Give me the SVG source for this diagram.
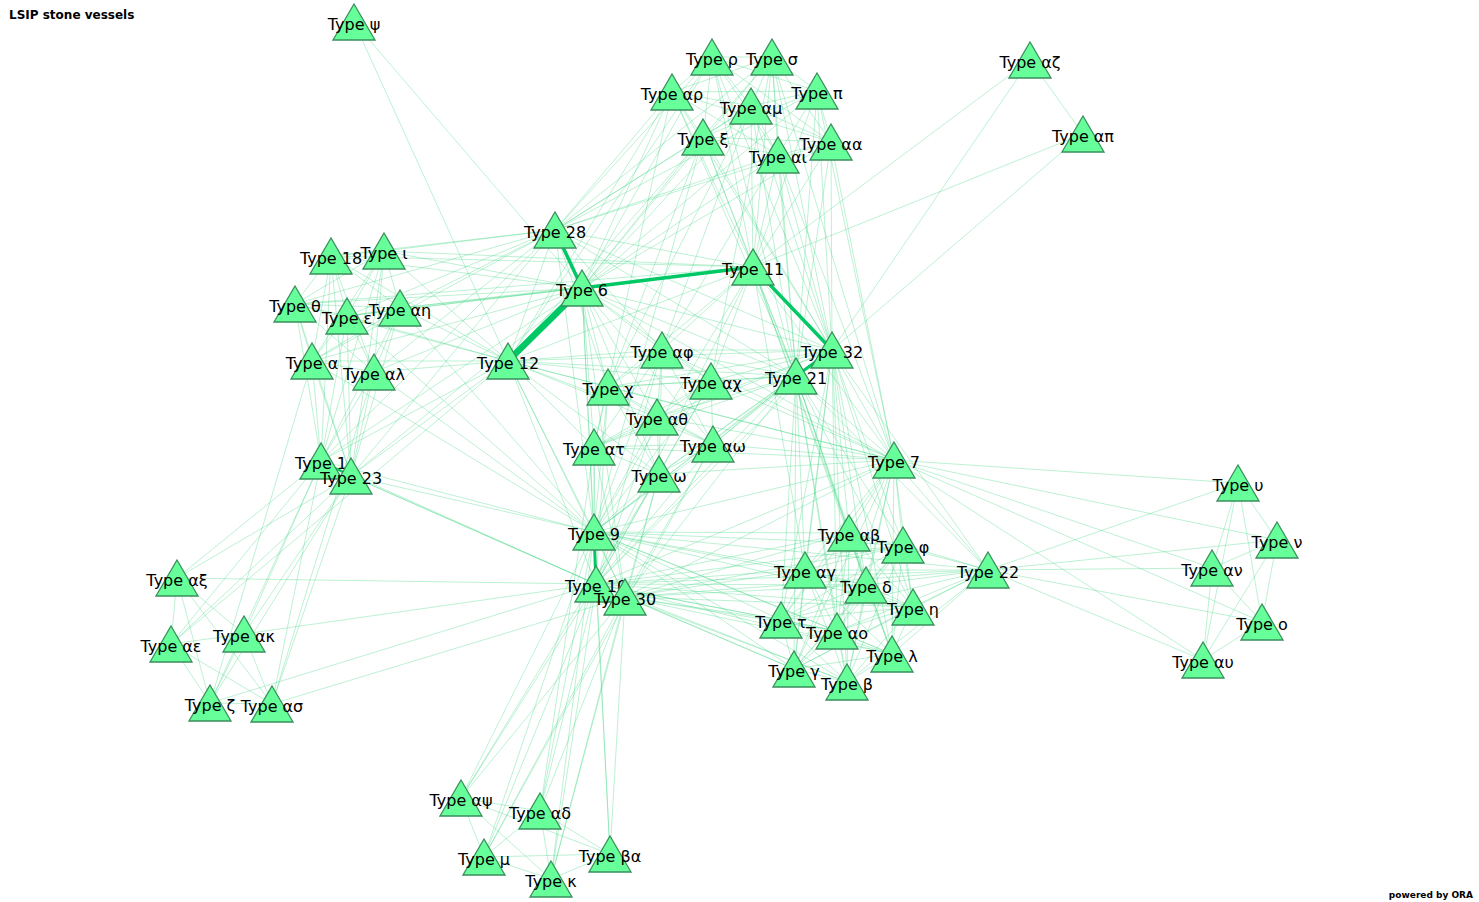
<svg xmlns="http://www.w3.org/2000/svg" xmlns:xlink="http://www.w3.org/1999/xlink" width="1479" height="902" viewBox="0 0 1479 902">
<style>
.e path{stroke:#3ad67f;stroke-opacity:0.42;stroke-width:0.8;fill:none}
.h path{stroke:#00c864;fill:none;stroke-linecap:round}
.n use{fill:#66ff99;stroke:#3a8f5c;stroke-width:1.3}
.n text{font-family:"DejaVu Sans",Verdana,sans-serif;font-size:16px;fill:#000;text-anchor:middle}
.t{font-family:"DejaVu Sans",Verdana,sans-serif;font-weight:bold;fill:#000}
</style>
<defs>
<path id="tri" d="M0 -18L21 18L-21 18Z"/>
</defs>
<rect width="1479" height="902" fill="#fff"/>
<text class="t" x="9" y="19" font-size="12">LSIP stone vessels</text>
<text class="t" x="1473" y="898" font-size="9" text-anchor="end">powered by ORA</text>
<g id="connectors">
<g class="e">
<path d="M712 57L772 57"/><path d="M712 57L672 92"/><path d="M712 57L817 91"/><path d="M712 57L751 106"/><path d="M712 57L703 137"/><path d="M712 57L778 155"/><path d="M712 57L831 142"/>
<path d="M772 57L672 92"/><path d="M772 57L817 91"/><path d="M772 57L751 106"/><path d="M772 57L703 137"/><path d="M772 57L778 155"/><path d="M772 57L831 142"/>
<path d="M672 92L817 91"/><path d="M672 92L751 106"/><path d="M672 92L703 137"/><path d="M672 92L778 155"/><path d="M672 92L831 142"/>
<path d="M817 91L751 106"/><path d="M817 91L703 137"/><path d="M817 91L778 155"/><path d="M817 91L831 142"/>
<path d="M751 106L703 137"/><path d="M751 106L778 155"/><path d="M751 106L831 142"/>
<path d="M703 137L778 155"/><path d="M703 137L831 142"/><path d="M778 155L831 142"/>
<path d="M712 57L555 230"/><path d="M712 57L582 288"/><path d="M712 57L753 267"/><path d="M712 57L832 350"/><path d="M712 57L796 376"/>
<path d="M772 57L555 230"/><path d="M772 57L582 288"/><path d="M772 57L753 267"/><path d="M772 57L832 350"/><path d="M772 57L796 376"/>
<path d="M672 92L555 230"/><path d="M672 92L582 288"/><path d="M672 92L753 267"/><path d="M672 92L832 350"/><path d="M672 92L796 376"/>
<path d="M817 91L555 230"/><path d="M817 91L582 288"/><path d="M817 91L753 267"/><path d="M817 91L832 350"/><path d="M817 91L796 376"/>
<path d="M751 106L555 230"/><path d="M751 106L582 288"/><path d="M751 106L753 267"/><path d="M751 106L832 350"/><path d="M751 106L796 376"/>
<path d="M703 137L555 230"/><path d="M703 137L582 288"/><path d="M703 137L753 267"/><path d="M703 137L832 350"/><path d="M703 137L796 376"/>
<path d="M778 155L555 230"/><path d="M778 155L582 288"/><path d="M778 155L753 267"/><path d="M778 155L832 350"/><path d="M778 155L796 376"/>
<path d="M831 142L555 230"/><path d="M831 142L582 288"/><path d="M831 142L753 267"/><path d="M831 142L832 350"/><path d="M831 142L796 376"/>
<path d="M672 92L508 361"/><path d="M703 137L508 361"/><path d="M712 57L508 361"/><path d="M703 137L608 387"/><path d="M751 106L608 387"/>
<path d="M831 142L894 460"/><path d="M817 91L894 460"/><path d="M778 155L894 460"/><path d="M772 57L894 460"/><path d="M751 106L662 350"/>
<path d="M778 155L662 350"/><path d="M703 137L594 532"/><path d="M772 57L711 381"/><path d="M672 92L594 447"/>
<path d="M331 256L384 251"/><path d="M331 256L295 304"/><path d="M331 256L347 316"/><path d="M331 256L400 308"/><path d="M331 256L312 361"/><path d="M331 256L374 372"/><path d="M331 256L321 461"/><path d="M331 256L351 476"/>
<path d="M384 251L295 304"/><path d="M384 251L347 316"/><path d="M384 251L400 308"/><path d="M384 251L312 361"/><path d="M384 251L374 372"/><path d="M384 251L321 461"/><path d="M384 251L351 476"/>
<path d="M295 304L347 316"/><path d="M295 304L400 308"/><path d="M295 304L312 361"/><path d="M295 304L374 372"/><path d="M295 304L321 461"/><path d="M295 304L351 476"/>
<path d="M347 316L400 308"/><path d="M347 316L312 361"/><path d="M347 316L374 372"/><path d="M347 316L321 461"/><path d="M347 316L351 476"/>
<path d="M400 308L312 361"/><path d="M400 308L374 372"/><path d="M400 308L321 461"/><path d="M400 308L351 476"/>
<path d="M312 361L374 372"/><path d="M312 361L321 461"/><path d="M312 361L351 476"/><path d="M374 372L321 461"/><path d="M374 372L351 476"/>
<path d="M331 256L555 230"/><path d="M331 256L582 288"/><path d="M331 256L508 361"/>
<path d="M384 251L555 230"/><path d="M384 251L582 288"/><path d="M384 251L508 361"/>
<path d="M295 304L555 230"/><path d="M295 304L582 288"/><path d="M295 304L508 361"/>
<path d="M347 316L555 230"/><path d="M347 316L582 288"/><path d="M347 316L508 361"/>
<path d="M400 308L555 230"/><path d="M400 308L582 288"/><path d="M400 308L508 361"/>
<path d="M312 361L555 230"/><path d="M312 361L582 288"/><path d="M312 361L508 361"/>
<path d="M374 372L555 230"/><path d="M374 372L582 288"/><path d="M374 372L508 361"/>
<path d="M321 461L555 230"/><path d="M321 461L582 288"/><path d="M321 461L508 361"/>
<path d="M351 476L555 230"/><path d="M351 476L582 288"/><path d="M351 476L508 361"/>
<path d="M331 256L753 267"/><path d="M384 251L753 267"/><path d="M295 304L753 267"/><path d="M347 316L753 267"/><path d="M400 308L753 267"/>
<path d="M312 361L594 532"/><path d="M374 372L594 532"/><path d="M347 316L594 532"/><path d="M400 308L594 532"/><path d="M321 461L594 532"/><path d="M351 476L594 532"/>
<path d="M321 461L596 584"/><path d="M351 476L596 584"/><path d="M351 476L625 597"/>
<path d="M608 387L662 350"/><path d="M608 387L711 381"/><path d="M608 387L657 417"/><path d="M608 387L594 447"/><path d="M608 387L713 444"/><path d="M608 387L659 474"/>
<path d="M662 350L711 381"/><path d="M662 350L657 417"/><path d="M662 350L594 447"/><path d="M662 350L713 444"/><path d="M662 350L659 474"/>
<path d="M711 381L657 417"/><path d="M711 381L594 447"/><path d="M711 381L713 444"/><path d="M711 381L659 474"/>
<path d="M657 417L594 447"/><path d="M657 417L713 444"/><path d="M657 417L659 474"/>
<path d="M594 447L713 444"/><path d="M594 447L659 474"/><path d="M713 444L659 474"/>
<path d="M608 387L582 288"/><path d="M608 387L508 361"/><path d="M608 387L594 532"/><path d="M608 387L596 584"/><path d="M608 387L796 376"/><path d="M608 387L832 350"/><path d="M608 387L894 460"/>
<path d="M662 350L582 288"/><path d="M662 350L508 361"/><path d="M662 350L594 532"/><path d="M662 350L596 584"/><path d="M662 350L796 376"/><path d="M662 350L832 350"/><path d="M662 350L894 460"/>
<path d="M711 381L582 288"/><path d="M711 381L508 361"/><path d="M711 381L594 532"/><path d="M711 381L596 584"/><path d="M711 381L796 376"/><path d="M711 381L832 350"/><path d="M711 381L894 460"/>
<path d="M657 417L582 288"/><path d="M657 417L508 361"/><path d="M657 417L594 532"/><path d="M657 417L596 584"/><path d="M657 417L796 376"/><path d="M657 417L832 350"/><path d="M657 417L894 460"/>
<path d="M594 447L582 288"/><path d="M594 447L508 361"/><path d="M594 447L594 532"/><path d="M594 447L596 584"/><path d="M594 447L796 376"/><path d="M594 447L832 350"/><path d="M594 447L894 460"/>
<path d="M713 444L582 288"/><path d="M713 444L508 361"/><path d="M713 444L594 532"/><path d="M713 444L596 584"/><path d="M713 444L796 376"/><path d="M713 444L832 350"/><path d="M713 444L894 460"/>
<path d="M659 474L582 288"/><path d="M659 474L508 361"/><path d="M659 474L594 532"/><path d="M659 474L596 584"/><path d="M659 474L796 376"/><path d="M659 474L832 350"/><path d="M659 474L894 460"/>
<path d="M753 267L662 350"/><path d="M753 267L711 381"/><path d="M753 267L608 387"/><path d="M625 597L594 447"/><path d="M625 597L659 474"/><path d="M625 597L713 444"/><path d="M555 230L608 387"/><path d="M555 230L662 350"/>
<path d="M849 533L903 545"/><path d="M849 533L805 570"/><path d="M849 533L866 585"/><path d="M849 533L988 570"/><path d="M849 533L913 607"/><path d="M849 533L781 620"/><path d="M849 533L837 631"/><path d="M849 533L892 654"/><path d="M849 533L794 669"/><path d="M849 533L847 682"/>
<path d="M903 545L805 570"/><path d="M903 545L866 585"/><path d="M903 545L988 570"/><path d="M903 545L913 607"/><path d="M903 545L781 620"/><path d="M903 545L837 631"/><path d="M903 545L892 654"/><path d="M903 545L794 669"/><path d="M903 545L847 682"/>
<path d="M805 570L866 585"/><path d="M805 570L988 570"/><path d="M805 570L913 607"/><path d="M805 570L781 620"/><path d="M805 570L837 631"/><path d="M805 570L892 654"/><path d="M805 570L794 669"/><path d="M805 570L847 682"/>
<path d="M866 585L988 570"/><path d="M866 585L913 607"/><path d="M866 585L781 620"/><path d="M866 585L837 631"/><path d="M866 585L892 654"/><path d="M866 585L794 669"/><path d="M866 585L847 682"/>
<path d="M988 570L913 607"/><path d="M988 570L781 620"/><path d="M988 570L837 631"/><path d="M988 570L892 654"/><path d="M988 570L794 669"/><path d="M988 570L847 682"/>
<path d="M913 607L781 620"/><path d="M913 607L837 631"/><path d="M913 607L892 654"/><path d="M913 607L794 669"/><path d="M913 607L847 682"/>
<path d="M781 620L837 631"/><path d="M781 620L892 654"/><path d="M781 620L794 669"/><path d="M781 620L847 682"/>
<path d="M837 631L892 654"/><path d="M837 631L794 669"/><path d="M837 631L847 682"/>
<path d="M892 654L794 669"/><path d="M892 654L847 682"/><path d="M794 669L847 682"/>
<path d="M849 533L594 532"/><path d="M849 533L596 584"/><path d="M849 533L625 597"/><path d="M849 533L894 460"/><path d="M849 533L796 376"/><path d="M849 533L832 350"/>
<path d="M903 545L594 532"/><path d="M903 545L596 584"/><path d="M903 545L625 597"/><path d="M903 545L894 460"/><path d="M903 545L796 376"/><path d="M903 545L832 350"/>
<path d="M805 570L594 532"/><path d="M805 570L596 584"/><path d="M805 570L625 597"/><path d="M805 570L894 460"/><path d="M805 570L796 376"/><path d="M805 570L832 350"/>
<path d="M866 585L594 532"/><path d="M866 585L596 584"/><path d="M866 585L625 597"/><path d="M866 585L894 460"/><path d="M866 585L796 376"/><path d="M866 585L832 350"/>
<path d="M988 570L594 532"/><path d="M988 570L596 584"/><path d="M988 570L625 597"/><path d="M988 570L894 460"/><path d="M988 570L796 376"/><path d="M988 570L832 350"/>
<path d="M913 607L594 532"/><path d="M913 607L596 584"/><path d="M913 607L625 597"/><path d="M913 607L894 460"/><path d="M913 607L796 376"/><path d="M913 607L832 350"/>
<path d="M781 620L594 532"/><path d="M781 620L596 584"/><path d="M781 620L625 597"/><path d="M781 620L894 460"/><path d="M781 620L796 376"/><path d="M781 620L832 350"/>
<path d="M837 631L594 532"/><path d="M837 631L596 584"/><path d="M837 631L625 597"/><path d="M837 631L894 460"/><path d="M837 631L796 376"/><path d="M837 631L832 350"/>
<path d="M892 654L594 532"/><path d="M892 654L596 584"/><path d="M892 654L625 597"/><path d="M892 654L894 460"/><path d="M892 654L796 376"/><path d="M892 654L832 350"/>
<path d="M794 669L594 532"/><path d="M794 669L596 584"/><path d="M794 669L625 597"/><path d="M794 669L894 460"/><path d="M794 669L796 376"/><path d="M794 669L832 350"/>
<path d="M847 682L594 532"/><path d="M847 682L596 584"/><path d="M847 682L625 597"/><path d="M847 682L894 460"/><path d="M847 682L796 376"/><path d="M847 682L832 350"/>
<path d="M753 267L849 533"/><path d="M753 267L805 570"/><path d="M753 267L866 585"/>
<path d="M177 578L171 644"/><path d="M177 578L244 634"/><path d="M177 578L210 703"/><path d="M177 578L272 704"/>
<path d="M171 644L244 634"/><path d="M171 644L210 703"/><path d="M171 644L272 704"/>
<path d="M244 634L210 703"/><path d="M244 634L272 704"/><path d="M210 703L272 704"/>
<path d="M177 578L321 461"/><path d="M177 578L351 476"/><path d="M171 644L321 461"/><path d="M171 644L351 476"/><path d="M244 634L321 461"/><path d="M244 634L351 476"/><path d="M210 703L321 461"/><path d="M210 703L351 476"/><path d="M272 704L321 461"/><path d="M272 704L351 476"/>
<path d="M177 578L596 584"/><path d="M244 634L596 584"/><path d="M210 703L596 584"/><path d="M272 704L625 597"/>
<path d="M210 703L312 361"/><path d="M272 704L374 372"/><path d="M171 644L508 361"/>
<path d="M461 798L540 811"/><path d="M461 798L484 857"/><path d="M461 798L551 879"/><path d="M461 798L610 854"/>
<path d="M540 811L484 857"/><path d="M540 811L551 879"/><path d="M540 811L610 854"/>
<path d="M484 857L551 879"/><path d="M484 857L610 854"/><path d="M551 879L610 854"/>
<path d="M461 798L594 532"/><path d="M461 798L596 584"/><path d="M461 798L625 597"/>
<path d="M540 811L594 532"/><path d="M540 811L596 584"/><path d="M540 811L625 597"/>
<path d="M484 857L594 532"/><path d="M484 857L596 584"/><path d="M484 857L625 597"/>
<path d="M551 879L594 532"/><path d="M551 879L596 584"/><path d="M551 879L625 597"/>
<path d="M610 854L594 532"/><path d="M610 854L596 584"/><path d="M610 854L625 597"/>
<path d="M461 798L659 474"/><path d="M540 811L594 447"/><path d="M484 857L713 444"/><path d="M551 879L659 474"/>
<path d="M1238 483L1277 540"/><path d="M1238 483L1212 568"/><path d="M1238 483L1262 622"/><path d="M1238 483L1203 660"/>
<path d="M1277 540L1212 568"/><path d="M1277 540L1262 622"/><path d="M1277 540L1203 660"/>
<path d="M1212 568L1262 622"/><path d="M1212 568L1203 660"/><path d="M1262 622L1203 660"/>
<path d="M894 460L1238 483"/><path d="M894 460L1277 540"/><path d="M894 460L1212 568"/><path d="M894 460L1262 622"/><path d="M894 460L1203 660"/>
<path d="M988 570L1238 483"/><path d="M988 570L1277 540"/><path d="M988 570L1212 568"/><path d="M988 570L1262 622"/><path d="M988 570L1203 660"/>
<path d="M582 288L594 532"/><path d="M582 288L596 584"/><path d="M582 288L625 597"/><path d="M582 288L796 376"/><path d="M582 288L832 350"/><path d="M582 288L894 460"/>
<path d="M555 230L508 361"/><path d="M555 230L753 267"/><path d="M555 230L594 532"/><path d="M555 230L796 376"/><path d="M555 230L832 350"/>
<path d="M753 267L508 361"/><path d="M753 267L594 532"/><path d="M753 267L596 584"/><path d="M753 267L796 376"/><path d="M753 267L894 460"/>
<path d="M508 361L594 532"/><path d="M508 361L596 584"/><path d="M508 361L625 597"/><path d="M508 361L796 376"/><path d="M508 361L894 460"/><path d="M508 361L832 350"/>
<path d="M594 532L625 597"/><path d="M594 532L796 376"/><path d="M594 532L832 350"/><path d="M594 532L894 460"/>
<path d="M596 584L625 597"/><path d="M596 584L796 376"/><path d="M596 584L832 350"/><path d="M596 584L894 460"/>
<path d="M625 597L796 376"/><path d="M625 597L894 460"/><path d="M832 350L894 460"/><path d="M796 376L894 460"/>
<path d="M354 22L582 288"/><path d="M354 22L508 361"/>
<path d="M1030 60L1083 134"/><path d="M1030 60L753 267"/><path d="M1030 60L832 350"/><path d="M1083 134L753 267"/><path d="M1083 134L832 350"/>
</g>
<g class="h">
<path d="M555 230L582 288" stroke-width="3.5"/>
<path d="M582 288L753 267" stroke-width="3.5"/>
<path d="M582 288L508 361" stroke-width="6.5"/>
<path d="M753 267L832 350" stroke-width="3.5"/>
<path d="M832 350L796 376" stroke-width="3"/>
<path d="M594 532L596 584" stroke-width="3"/>
<path d="M321 461L351 476" stroke-width="2.5"/>
</g>
</g>
<g class="n">
<g id="n-psi"><use href="#tri" x="354" y="22"/><text x="354" y="30">Type ψ</text></g>
<g id="n-rho"><use href="#tri" x="712" y="57"/><text x="712" y="65">Type ρ</text></g>
<g id="n-sigma"><use href="#tri" x="772" y="57"/><text x="772" y="65">Type σ</text></g>
<g id="n-arho"><use href="#tri" x="672" y="92"/><text x="672" y="100">Type αρ</text></g>
<g id="n-pi"><use href="#tri" x="817" y="91"/><text x="817" y="99">Type π</text></g>
<g id="n-amu"><use href="#tri" x="751" y="106"/><text x="751" y="114">Type αμ</text></g>
<g id="n-xi"><use href="#tri" x="703" y="137"/><text x="703" y="145">Type ξ</text></g>
<g id="n-aiota"><use href="#tri" x="778" y="155"/><text x="778" y="163">Type αι</text></g>
<g id="n-aa"><use href="#tri" x="831" y="142"/><text x="831" y="150">Type αα</text></g>
<g id="n-azeta"><use href="#tri" x="1030" y="60"/><text x="1030" y="68">Type αζ</text></g>
<g id="n-api"><use href="#tri" x="1083" y="134"/><text x="1083" y="142">Type απ</text></g>
<g id="n-28"><use href="#tri" x="555" y="230"/><text x="555" y="238">Type 28</text></g>
<g id="n-6"><use href="#tri" x="582" y="288"/><text x="582" y="296">Type 6</text></g>
<g id="n-11"><use href="#tri" x="753" y="267"/><text x="753" y="275">Type 11</text></g>
<g id="n-18"><use href="#tri" x="331" y="256"/><text x="331" y="264">Type 18</text></g>
<g id="n-iota"><use href="#tri" x="384" y="251"/><text x="384" y="259">Type ι</text></g>
<g id="n-theta"><use href="#tri" x="295" y="304"/><text x="295" y="312">Type θ</text></g>
<g id="n-eps"><use href="#tri" x="347" y="316"/><text x="347" y="324">Type ε</text></g>
<g id="n-aeta"><use href="#tri" x="400" y="308"/><text x="400" y="316">Type αη</text></g>
<g id="n-alpha"><use href="#tri" x="312" y="361"/><text x="312" y="369">Type α</text></g>
<g id="n-alambda"><use href="#tri" x="374" y="372"/><text x="374" y="380">Type αλ</text></g>
<g id="n-12"><use href="#tri" x="508" y="361"/><text x="508" y="369">Type 12</text></g>
<g id="n-32"><use href="#tri" x="832" y="350"/><text x="832" y="358">Type 32</text></g>
<g id="n-21"><use href="#tri" x="796" y="376"/><text x="796" y="384">Type 21</text></g>
<g id="n-chi"><use href="#tri" x="608" y="387"/><text x="608" y="395">Type χ</text></g>
<g id="n-aphi"><use href="#tri" x="662" y="350"/><text x="662" y="358">Type αφ</text></g>
<g id="n-achi"><use href="#tri" x="711" y="381"/><text x="711" y="389">Type αχ</text></g>
<g id="n-atheta"><use href="#tri" x="657" y="417"/><text x="657" y="425">Type αθ</text></g>
<g id="n-atau"><use href="#tri" x="594" y="447"/><text x="594" y="455">Type ατ</text></g>
<g id="n-aomega"><use href="#tri" x="713" y="444"/><text x="713" y="452">Type αω</text></g>
<g id="n-omega"><use href="#tri" x="659" y="474"/><text x="659" y="482">Type ω</text></g>
<g id="n-7"><use href="#tri" x="894" y="460"/><text x="894" y="468">Type 7</text></g>
<g id="n-1"><use href="#tri" x="321" y="461"/><text x="321" y="469">Type 1</text></g>
<g id="n-23"><use href="#tri" x="351" y="476"/><text x="351" y="484">Type 23</text></g>
<g id="n-9"><use href="#tri" x="594" y="532"/><text x="594" y="540">Type 9</text></g>
<g id="n-10"><use href="#tri" x="596" y="584"/><text x="596" y="592">Type 10</text></g>
<g id="n-30"><use href="#tri" x="625" y="597"/><text x="625" y="605">Type 30</text></g>
<g id="n-axi"><use href="#tri" x="177" y="578"/><text x="177" y="586">Type αξ</text></g>
<g id="n-aeps"><use href="#tri" x="171" y="644"/><text x="171" y="652">Type αε</text></g>
<g id="n-akappa"><use href="#tri" x="244" y="634"/><text x="244" y="642">Type ακ</text></g>
<g id="n-zeta"><use href="#tri" x="210" y="703"/><text x="210" y="711">Type ζ</text></g>
<g id="n-asigma"><use href="#tri" x="272" y="704"/><text x="272" y="712">Type ασ</text></g>
<g id="n-abeta"><use href="#tri" x="849" y="533"/><text x="849" y="541">Type αβ</text></g>
<g id="n-phi"><use href="#tri" x="903" y="545"/><text x="903" y="553">Type φ</text></g>
<g id="n-agamma"><use href="#tri" x="805" y="570"/><text x="805" y="578">Type αγ</text></g>
<g id="n-delta"><use href="#tri" x="866" y="585"/><text x="866" y="593">Type δ</text></g>
<g id="n-22"><use href="#tri" x="988" y="570"/><text x="988" y="578">Type 22</text></g>
<g id="n-eta"><use href="#tri" x="913" y="607"/><text x="913" y="615">Type η</text></g>
<g id="n-tau"><use href="#tri" x="781" y="620"/><text x="781" y="628">Type τ</text></g>
<g id="n-aomicron"><use href="#tri" x="837" y="631"/><text x="837" y="639">Type αο</text></g>
<g id="n-lambda"><use href="#tri" x="892" y="654"/><text x="892" y="662">Type λ</text></g>
<g id="n-gamma"><use href="#tri" x="794" y="669"/><text x="794" y="677">Type γ</text></g>
<g id="n-beta"><use href="#tri" x="847" y="682"/><text x="847" y="690">Type β</text></g>
<g id="n-upsilon"><use href="#tri" x="1238" y="483"/><text x="1238" y="491">Type υ</text></g>
<g id="n-nu"><use href="#tri" x="1277" y="540"/><text x="1277" y="548">Type ν</text></g>
<g id="n-anu"><use href="#tri" x="1212" y="568"/><text x="1212" y="576">Type αν</text></g>
<g id="n-omicron"><use href="#tri" x="1262" y="622"/><text x="1262" y="630">Type ο</text></g>
<g id="n-aupsilon"><use href="#tri" x="1203" y="660"/><text x="1203" y="668">Type αυ</text></g>
<g id="n-apsi"><use href="#tri" x="461" y="798"/><text x="461" y="806">Type αψ</text></g>
<g id="n-adelta"><use href="#tri" x="540" y="811"/><text x="540" y="819">Type αδ</text></g>
<g id="n-mu"><use href="#tri" x="484" y="857"/><text x="484" y="865">Type μ</text></g>
<g id="n-kappa"><use href="#tri" x="551" y="879"/><text x="551" y="887">Type κ</text></g>
<g id="n-beta-a"><use href="#tri" x="610" y="854"/><text x="610" y="862">Type βα</text></g>
</g>
</svg>
